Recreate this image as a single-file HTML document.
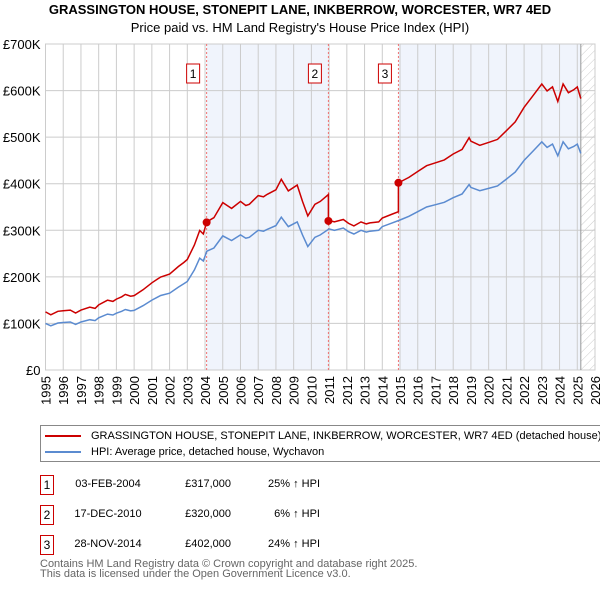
<!DOCTYPE html>
<html><head><meta charset="utf-8"><style>
body{margin:0;width:600px;height:590px;background:#fff;font-family:"Liberation Sans","DejaVu Sans",sans-serif;position:relative;overflow:hidden}
.t{position:absolute;white-space:nowrap;color:#000}
.box{position:absolute;border:1px solid #c00;width:12px;height:18px;font-size:12px;text-align:center;line-height:18px}
</style></head><body>
<div class="t" style="left:0;width:600px;text-align:center;top:2px;font-size:13px;font-weight:bold">GRASSINGTON HOUSE, STONEPIT LANE, INKBERROW, WORCESTER, WR7 4ED</div>
<div class="t" style="left:0;width:600px;text-align:center;top:20px;font-size:13px">Price paid vs. HM Land Registry's House Price Index (HPI)</div>
<svg id="chart" width="600" height="420" style="position:absolute;left:0;top:0" font-family="Liberation Sans, DejaVu Sans, sans-serif"></svg>
<div style="position:absolute;left:40px;top:425px;width:560px;height:35px;border:1px solid #888;border-right:none;overflow:hidden">
 <div style="position:absolute;left:4px;top:4px;font-size:11px;white-space:nowrap"><span style="display:inline-block;width:36px;height:2px;background:#c00;vertical-align:middle;margin-right:10px"></span>GRASSINGTON HOUSE, STONEPIT LANE, INKBERROW, WORCESTER, WR7 4ED (detached house)</div>
 <div style="position:absolute;left:4px;top:20px;font-size:11px;white-space:nowrap"><span style="display:inline-block;width:36px;height:2px;background:#5b8bd0;vertical-align:middle;margin-right:10px"></span>HPI: Average price, detached house, Wychavon</div>
</div>
<div id="table"></div>
<div class="t" style="left:40px;top:559px;font-size:11px;color:#666;line-height:10px">Contains HM Land Registry data © Crown copyright and database right 2025.<br>This data is licensed under the Open Government Licence v3.0.</div>
<script>
const hpiYears=[1995,1995.3,1995.7,1996,1996.4,1996.7,1997,1997.5,1997.8,1998,1998.5,1998.8,1999,1999.3,1999.5,1999.8,2000,2000.5,2001,2001.3,2001.5,2002,2002.5,2002.8,2003,2003.4,2003.7,2003.9,2004.1,2004.5,2005,2005.3,2005.5,2006,2006.3,2006.5,2007,2007.3,2007.5,2008,2008.3,2008.7,2009.2,2009.5,2009.8,2010.2,2010.5,2011,2011.3,2011.8,2012.1,2012.4,2012.8,2013.1,2013.3,2013.8,2014,2014.5,2015,2015.5,2016,2016.5,2017,2017.5,2018,2018.5,2018.9,2019,2019.5,2020,2020.5,2021,2021.5,2022,2022.5,2023,2023.3,2023.6,2023.9,2024.2,2024.5,2024.8,2025,2025.2];
const hpiValues=[100,95,101,102,103,98,103,108,106,112,120,118,122,126,130,127,128,138,150,156,160,165,178,185,190,215,240,234,255,262,288,282,278,290,283,285,300,298,302,310,328,308,318,290,265,285,290,303,300,305,297,292,300,296,298,300,308,315,322,330,340,350,355,360,370,378,398,392,385,390,395,410,425,450,470,490,478,485,460,490,475,480,485,465];
const saleDates=[2004.09,2010.96,2014.91];
const salePrices=[317,320,402];
const saleLabels=["03-FEB-2004","17-DEC-2010","28-NOV-2014"];
const salePriceText=["£317,000","£320,000","£402,000"];
const saleHpiText=["25% ↑ HPI","6% ↑ HPI","24% ↑ HPI"];
const yTicks=[0,100,200,300,400,500,600,700];
const yTickLabels=["£0","£100K","£200K","£300K","£400K","£500K","£600K","£700K"];
const xTicks=[1995,1996,1997,1998,1999,2000,2001,2002,2003,2004,2005,2006,2007,2008,2009,2010,2011,2012,2013,2014,2015,2016,2017,2018,2019,2020,2021,2022,2023,2024,2025,2026];

const L=45.5,R=595,T=44,B=370,x0=1995,x1=2026,ymax=700,dataEnd=2025.2;
const X=v=>L+(v-x0)/(x1-x0)*(R-L);
const Y=v=>B-v/ymax*(B-T);
const NS="http://www.w3.org/2000/svg";
const svg=document.getElementById('chart');
function mk(tag,at,parent){const e=document.createElementNS(NS,tag);for(const k in at)e.setAttribute(k,at[k]);(parent||svg).appendChild(e);return e;}
function interp(t){for(let i=0;i<hpiYears.length-1;i++){if(t<=hpiYears[i+1]){const f=(t-hpiYears[i])/(hpiYears[i+1]-hpiYears[i]);return hpiValues[i]+f*(hpiValues[i+1]-hpiValues[i]);}}return hpiValues[hpiValues.length-1];}
const defs=mk('defs',{});
const pat=mk('pattern',{id:'hatch',width:6,height:6,patternUnits:'userSpaceOnUse',patternTransform:'rotate(45)'},defs);
mk('line',{x1:0,y1:0,x2:0,y2:6,stroke:'#ccc','stroke-width':1},pat);
let r=mk('rect',{x:X(saleDates[0]),y:T,width:X(saleDates[1])-X(saleDates[0]),height:B-T,fill:'#f0f4fc'});

r=mk('rect',{x:X(saleDates[2]),y:T,width:X(dataEnd)-X(saleDates[2]),height:B-T,fill:'#f0f4fc'});

r=mk('rect',{x:X(dataEnd),y:T,width:R-X(dataEnd),height:B-T,fill:'url(#hatch)'});

yTicks.forEach((v,i)=>{
 mk('line',{x1:L,x2:R,y1:Y(v),y2:Y(v),stroke:'#ccc'});
 const t=mk('text',{x:L-5,y:Y(v)+5,'text-anchor':'end','font-size':13});t.textContent=yTickLabels[i];
 
});
xTicks.forEach(v=>{
 mk('line',{x1:X(v),x2:X(v),y1:T,y2:B,stroke:'#ccc'});
 const t=mk('text',{x:0,y:0,'text-anchor':'end','font-size':13,transform:`translate(${X(v)+5},${B+6}) rotate(-90)`});t.textContent=v;
 
});
mk('rect',{x:L,y:T,width:R-L,height:B-T,fill:'none',stroke:'#ccc'});
mk('line',{x1:X(dataEnd),x2:X(dataEnd),y1:T,y2:B,stroke:'#999'});
saleDates.forEach((d,i)=>{
 const l=mk('line',{x1:X(d),x2:X(d),y1:T,y2:B,stroke:'#f07070','stroke-dasharray':'2,2'});
 
 mk('rect',{x:X(d)-20,y:64,width:13,height:19,fill:'#fff',stroke:'#c00'});
 const t=mk('text',{x:X(d)-13.5,y:78,'text-anchor':'middle','font-size':12});t.textContent=i+1;
 
});
let p='';hpiYears.forEach((y,i)=>p+=(i?'L':'M')+X(y).toFixed(1)+','+Y(hpiValues[i]).toFixed(1));
const hl=mk('path',{d:p,fill:'none',stroke:'#5b8bd0','stroke-width':1.5});

const ratios=saleDates.map((d,i)=>salePrices[i]/interp(d));
function ratioAt(t){let k=0;for(let i=0;i<saleDates.length;i++)if(t>=saleDates[i])k=i;return ratios[k];}
const pts=[];
hpiYears.forEach((y,i)=>{
 saleDates.forEach(d=>{if(d>(i?hpiYears[i-1]:-1e9)&&d<=y){const h=interp(d);pts.push([d,h*ratioAt(d-1e-6)]);pts.push([d,h*ratioAt(d)]);}});
 pts.push([y,hpiValues[i]*ratioAt(y)]);
});
p='';pts.forEach((q,i)=>p+=(i?'L':'M')+X(q[0]).toFixed(1)+','+Y(q[1]).toFixed(1));
const pl=mk('path',{d:p,fill:'none',stroke:'#c00','stroke-width':1.5});

saleDates.forEach((d,i)=>{
 const c=mk('circle',{cx:X(d),cy:Y(salePrices[i]),r:4,fill:'#c00'});
 
});
const tb=document.getElementById('table');
saleDates.forEach((d,i)=>{
 const top=475+i*30;
 const row=document.createElement('div');
 
 
 row.innerHTML=`<div class="box" style="left:40px;top:${top}px">${i+1}</div>
 <div class="t" style="left:63px;width:90px;text-align:center;top:${top+3}px;font-size:11px">${saleLabels[i]}</div>
 <div class="t" style="left:150px;width:81px;text-align:right;top:${top+3}px;font-size:11px">${salePriceText[i]}</div>
 <div class="t" style="left:220px;width:100px;text-align:right;top:${top+3}px;font-size:11px">${saleHpiText[i]}</div>`;
 tb.appendChild(row);
});
</script>
</body></html>
